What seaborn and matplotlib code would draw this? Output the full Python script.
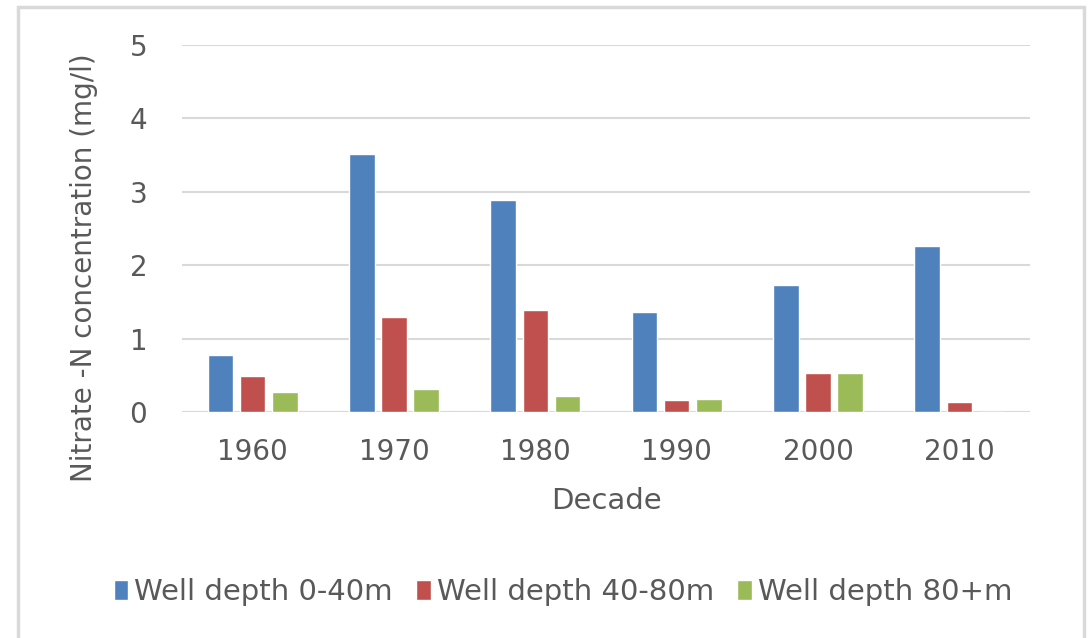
import matplotlib
matplotlib.use("Agg")
import matplotlib.pyplot as plt
import seaborn as sns
import pandas as pd
from matplotlib.patches import Rectangle

decades = ["1960", "1970", "1980", "1990", "2000", "2010"]
series_names = ["Well depth 0-40m", "Well depth 40-80m", "Well depth 80+m"]
depth_0_40 = [0.77, 3.51, 2.89, 1.36, 1.73, 2.26]
depth_40_80 = [0.49, 1.30, 1.39, 0.16, 0.53, 0.14]
depth_80_plus = [0.27, 0.31, 0.22, 0.18, 0.53, 0.0]
colors = ["#4F81BD", "#C0504D", "#9BBB59"]

rows = []
for name, vals in zip(series_names, [depth_0_40, depth_40_80, depth_80_plus]):
    for d, v in zip(decades, vals):
        rows.append({"Decade": d, "Series": name, "Value": v})
df = pd.DataFrame(rows)

sns.set_theme(style="white")
plt.rcParams["font.family"] = ["DejaVu Sans"]

fig = plt.figure(figsize=(10.88, 6.38), dpi=100)
ax = fig.add_axes([182/1088, 1-412/638, (1030-182)/1088, (412-45)/638])

sns.barplot(data=df, x="Decade", y="Value", hue="Series", order=decades,
            hue_order=series_names, palette=colors, width=0.68, gap=0.2,
            edgecolor="white", linewidth=1.0, errorbar=None, ax=ax, saturation=1)

ax.set_ylim(0, 5)
ax.set_xlim(-0.5, 5.5)
ax.set_yticks([0, 1, 2, 3, 4, 5])
ax.yaxis.grid(True, color="#D9D9D9", linewidth=1.5)
ax.set_axisbelow(True)
for s in ax.spines.values():
    s.set_visible(False)
ax.axhline(0, color="#D9D9D9", linewidth=1.5, zorder=0.5)
ax.tick_params(axis="both", length=0, labelsize=20, labelcolor="#595959")
ax.tick_params(axis="y", pad=25)
ax.tick_params(axis="x", pad=19)
ax.set_xlabel("Decade", fontsize=21, color="#595959", labelpad=15)
ax.set_ylabel("Nitrate -N concentration (mg/l)", fontsize=20, color="#595959")
ax.yaxis.set_label_coords(-(182-98)/848, (412-268)/367)

handles, labels = ax.get_legend_handles_labels()
ax.get_legend().remove()
fig.legend(handles, labels, loc="center", bbox_to_anchor=(563/1088, 1-592/638),
           ncol=3, frameon=False, fontsize=21, labelcolor="#595959",
           handlelength=0.5, handleheight=0.7, handletextpad=0.2, columnspacing=0.8)

fig.patches.append(Rectangle((18/1088, -0.01), (1084-18)/1088, 1-7/638+0.01,
                             transform=fig.transFigure, fill=False,
                             edgecolor="#D9D9D9", linewidth=2.5))

fig.savefig("out.png", dpi=100)
